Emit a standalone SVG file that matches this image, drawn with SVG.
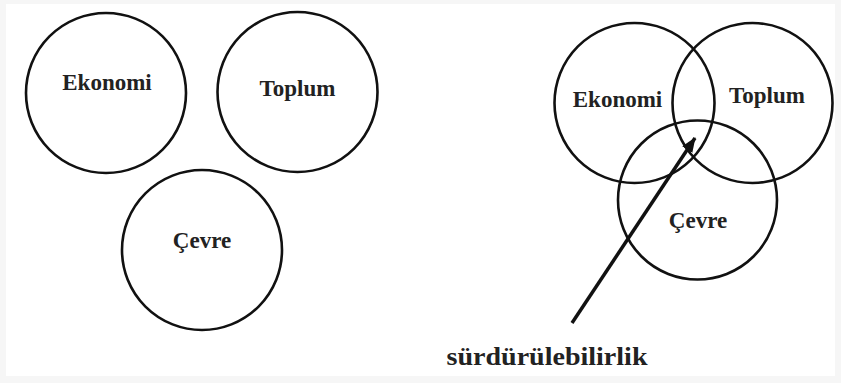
<svg xmlns="http://www.w3.org/2000/svg" width="841" height="383" viewBox="0 0 841 383">
  <style>
    .c { fill: none; stroke: #111; stroke-width: 2.6; }
    .t { font-family: "Liberation Serif", "Times New Roman", serif; font-weight: bold; font-size: 23px; fill: #222; text-anchor: middle; }
  </style>
  <defs>
    <marker id="ah" markerUnits="userSpaceOnUse" markerWidth="16" markerHeight="14" refX="14" refY="7" orient="auto">
      <path d="M0,1 L15,7 L0,13 Z" fill="#111"/>
    </marker>
  </defs>
  <rect x="0" y="0" width="841" height="383" fill="#f6f6f6"/>
  <rect x="6" y="4" width="829" height="372" fill="#ffffff"/>

  <g id="left-ekonomi">
    <circle class="c" cx="106" cy="93" r="80"/>
    <text class="t" x="107" y="90">Ekonomi</text>
  </g>
  <g id="left-toplum">
    <circle class="c" cx="297.5" cy="92" r="80"/>
    <text class="t" x="297.5" y="96">Toplum</text>
  </g>
  <g id="left-cevre">
    <circle class="c" cx="202" cy="250" r="80"/>
    <text class="t" x="202" y="248">Çevre</text>
  </g>

  <g id="right-ekonomi">
    <circle class="c" cx="634.5" cy="103" r="80"/>
    <text class="t" x="617.5" y="107">Ekonomi</text>
  </g>
  <g id="right-toplum">
    <circle class="c" cx="752.5" cy="103" r="80"/>
    <text class="t" x="767" y="103">Toplum</text>
  </g>
  <g id="right-cevre">
    <circle class="c" cx="697.5" cy="200" r="79.5"/>
    <text class="t" x="698" y="228">Çevre</text>
  </g>

  <g id="connectors">
    <line x1="572" y1="323" x2="695" y2="138" stroke="#111" stroke-width="3.5" marker-end="url(#ah)"/>
  </g>

  <g id="label-surdurulebilirlik">
    <text class="t" x="547" y="365" font-size="25" textLength="201" lengthAdjust="spacingAndGlyphs" style="font-size:25px">sürdürülebilirlik</text>
  </g>
</svg>
